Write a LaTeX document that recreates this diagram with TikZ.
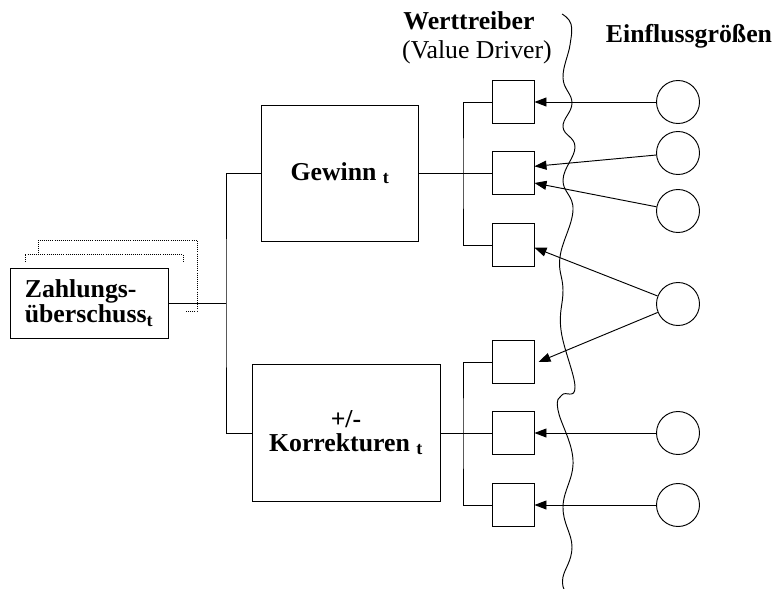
\documentclass[tikz,border=0pt]{standalone}
\usepackage{fontspec}
\setmainfont{Liberation Serif}
\usetikzlibrary{arrows.meta}

\newcommand{\bildgroesse}{\fontsize{22}{20}\selectfont}

\tikzset{
  bigbox/.style={draw, rectangle, line width=0.8pt, align=center, font=\bildgroesse\bfseries},
  wtbox/.style={draw, rectangle, minimum width=1.26cm, minimum height=1.29cm, line width=0.8pt},
  egcircle/.style={draw, circle, minimum size=1.29cm, inner sep=0pt, line width=0.8pt},
  pfeil/.style={-{Triangle[length=0.36cm,width=0.27cm]}, line width=0.8pt},
  linie/.style={line width=0.8pt},
  stapel/.style={densely dotted, line width=0.8pt}
}

\begin{document}
\begin{tikzpicture}[x=0.03cm, y=-0.03cm, font=\bildgroesse]
  \useasboundingbox (0,0) rectangle (777,589);

  % Zahlungsueberschuss mit Stapel dahinter
  \draw[stapel] (38,253) -- (38,240) -- (197,240) -- (197,311) -- (185,311);
  \draw[stapel] (25,262) -- (25,254) -- (183,254) -- (183,261);
  \node[bigbox, fill=white, align=left, minimum width=4.74cm, minimum height=2.1cm] (zahl) at (89,303) {Zahlungs-\\überschuss\textsubscript{t}};

  % Gewinn und Korrekturen
  \node[bigbox, minimum width=4.71cm, minimum height=4.08cm] (gewinn) at (340,173) {Gewinn \textsubscript{t}};
  \node[bigbox, minimum width=5.64cm, minimum height=4.11cm] (korr) at (346,433) {+/-\\Korrekturen \textsubscript{t}};

  % Werttreiber
  \node[wtbox] (wt1) at (513,102) {};
  \node[wtbox] (wt2) at (513,173) {};
  \node[wtbox] (wt3) at (513,245) {};
  \node[wtbox] (wt4) at (513,362) {};
  \node[wtbox] (wt5) at (513,433) {};
  \node[wtbox] (wt6) at (513,505) {};

  % Einflussgroessen
  \node[egcircle] (eg1) at (678,102) {};
  \node[egcircle] (eg2) at (678,153) {};
  \node[egcircle] (eg3) at (678,211) {};
  \node[egcircle] (eg4) at (678,304) {};
  \node[egcircle] (eg5) at (678,433) {};
  \node[egcircle] (eg6) at (678,505) {};

  % Ueberschriften
  \node[font=\bildgroesse\bfseries] (wtlabel) at (469,21) {Werttreiber};
  \node (vdlabel) at (477,52) {(Value Driver)};
  \node[font=\bildgroesse\bfseries] (eglabel) at (689,36) {Einflussgrößen};

  % Verbindungen links
  \coordinate (sp) at (226,303);
  \draw[linie] (zahl.east) -- (sp);
  \draw[linie] (gewinn.west) -| (sp) |- (korr.west);

  % Verzweigungen zu den Werttreibern
  \coordinate (bo) at (463,173);
  \draw[linie] (wt1.west) -| (bo) |- (wt3.west);
  \draw[linie] (gewinn.east) -- (wt2.west);
  \coordinate (bu) at (463,433);
  \draw[linie] (wt4.west) -| (bu) |- (wt6.west);
  \draw[linie] (korr.east) -- (wt5.west);

  % Pfeile von den Einflussgroessen
  \draw[pfeil] (eg1) -- (wt1);
  \draw[pfeil] (eg2) -- ([yshift=0.2cm]wt2.east);
  \draw[pfeil] (eg3) -- ([yshift=-0.3cm]wt2.east);
  \draw[pfeil] (eg4) -- ([yshift=-0.08cm]wt3.east);
  \draw[pfeil] (eg4) -- ([xshift=0.12cm]wt4.east);
  \draw[pfeil] (eg5) -- (wt5);
  \draw[pfeil] (eg6) -- (wt6);

  % Trennlinie
  \draw[linie] plot[smooth, tension=0.7] coordinates {(562,14) (571,24) (570,45) (563,78) (572,103) (563,127) (575,147) (563,180) (573,210) (560,257) (563,290) (561,330) (575,387) (562,395) (558,410) (573,460) (563,507) (572,547) (563,577) (564,589)};
\end{tikzpicture}
\end{document}
